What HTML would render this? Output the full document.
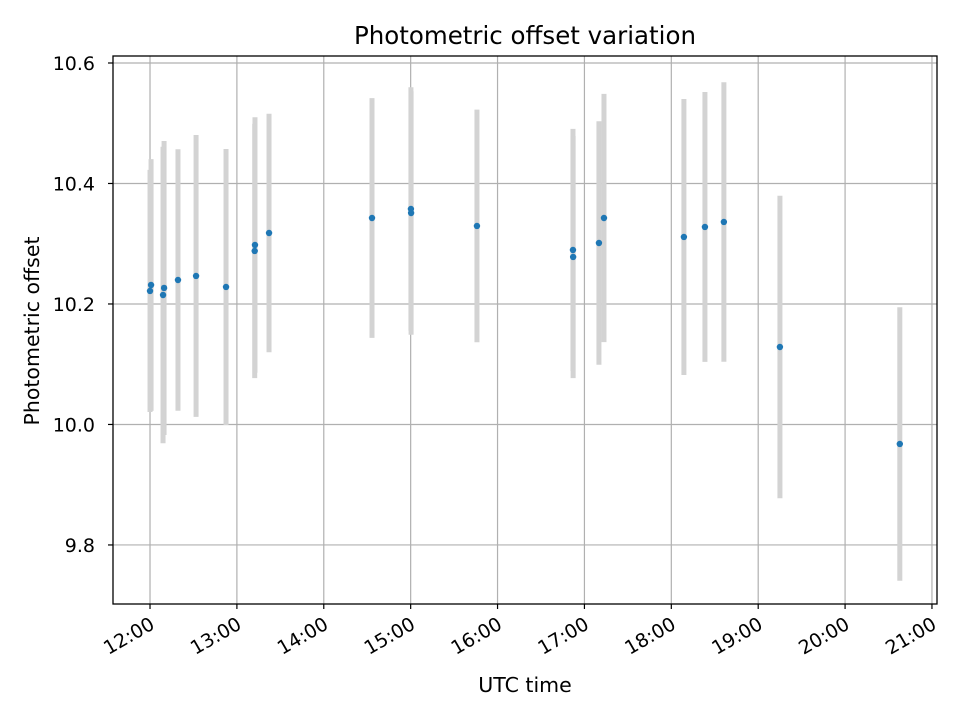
<!DOCTYPE html>
<html><head><meta charset="utf-8"><style>
body{margin:0;background:#fff;}
svg{display:block;font-family:"DejaVu Sans","Liberation Sans",sans-serif;}
</style></head><body>
<svg id="chart" width="960" height="720" xmlns="http://www.w3.org/2000/svg">
<rect width="960" height="720" fill="#fff"/>
<text x="525" y="44" font-size="24.5" text-anchor="middle" fill="#000">Photometric offset variation</text>
<text x="525" y="692" font-size="20.5" text-anchor="middle" fill="#000">UTC time</text>
<text transform="translate(39,331) rotate(-90)" font-size="20.5" text-anchor="middle" fill="#000">Photometric offset</text>
<g id="grid"></g><g id="errs"></g><g id="pts"></g><g id="axes"></g>
</svg>
<script>
const times=[12.012,12.0,12.162,12.15,12.322,12.53,12.875,13.208,13.205,13.37,14.555,15.003,15.005,15.763,16.868,16.87,17.167,17.225,18.145,18.387,18.605,19.25,20.63];
const values=[10.2315,10.2216,10.2266,10.2149,10.2398,10.2465,10.2282,10.2979,10.2880,10.3178,10.3427,10.3577,10.3510,10.3295,10.2896,10.2780,10.3012,10.3427,10.3112,10.3278,10.3361,10.1286,9.9676];
const errors=[0.209,0.201,0.244,0.246,0.217,0.234,0.229,0.212,0.211,0.198,0.199,0.202,0.202,0.193,0.201,0.201,0.202,0.206,0.229,0.224,0.232,0.251,0.227];
const yTicks=[9.8,10.0,10.2,10.4,10.6];
const yTickLabels=["9.8","10.0","10.2","10.4","10.6"];
const xTicks=[12,13,14,15,16,17,18,19,20,21];
const xTickLabels=["12:00","13:00","14:00","15:00","16:00","17:00","18:00","19:00","20:00","21:00"];

const L=113,R=937,T=56,B=604;
const x0=11.574,x1=21.058,y0=9.702,y1=10.6116;
const sx=v=>L+(v-x0)/(x1-x0)*(R-L);
const sy=v=>B-(v-y0)/(y1-y0)*(B-T);
const NS="http://www.w3.org/2000/svg";
function mk(tag,parent,attrs){const e=document.createElementNS(NS,tag);for(const k in attrs)e.setAttribute(k,attrs[k]);parent.appendChild(e);return e;}
const grid=document.getElementById('grid'),errs=document.getElementById('errs'),pts=document.getElementById('pts'),axes=document.getElementById('axes');

xTicks.forEach((t,i)=>{
  const x=sx(t);
  const g=mk('line',grid,{x1:x,x2:x,y1:T,y2:B,stroke:'#b0b0b0','stroke-width':1.2});
  
  
  const tk=mk('line',axes,{x1:x,x2:x,y1:B,y2:B+5,stroke:'#000','stroke-width':1.2});
  
  
  const lb=mk('text',axes,{transform:`translate(${x-1},${B+12}) rotate(-30)`,'font-size':19,'text-anchor':'end','dominant-baseline':'hanging'});
  lb.textContent=xTickLabels[i];
  
  
});
yTicks.forEach((t,i)=>{
  const y=sy(t);
  const g=mk('line',grid,{x1:L,x2:R,y1:y,y2:y,stroke:'#b0b0b0','stroke-width':1.2});
  
  
  const tk=mk('line',axes,{x1:L-5,x2:L,y1:y,y2:y,stroke:'#000','stroke-width':1.2});
  
  
  const lb=mk('text',axes,{x:L-18,y:y+7,'font-size':19,'text-anchor':'end'});
  lb.textContent=yTickLabels[i];
  
  
});
times.forEach((t,i)=>{
  const x=sx(t);
  const e=mk('line',errs,{x1:x,x2:x,y1:sy(values[i]+errors[i]),y2:sy(values[i]-errors[i]),stroke:'#d3d3d3','stroke-width':5});
  
  
});
times.forEach((t,i)=>{
  const c=mk('circle',pts,{cx:sx(t),cy:sy(values[i]),r:3.2,fill:'#1f77b4'});
  
  
});
const frame=mk('rect',axes,{x:L,y:T,width:R-L,height:B-T,fill:'none',stroke:'#000','stroke-width':1.3});


</script>
</body></html>
